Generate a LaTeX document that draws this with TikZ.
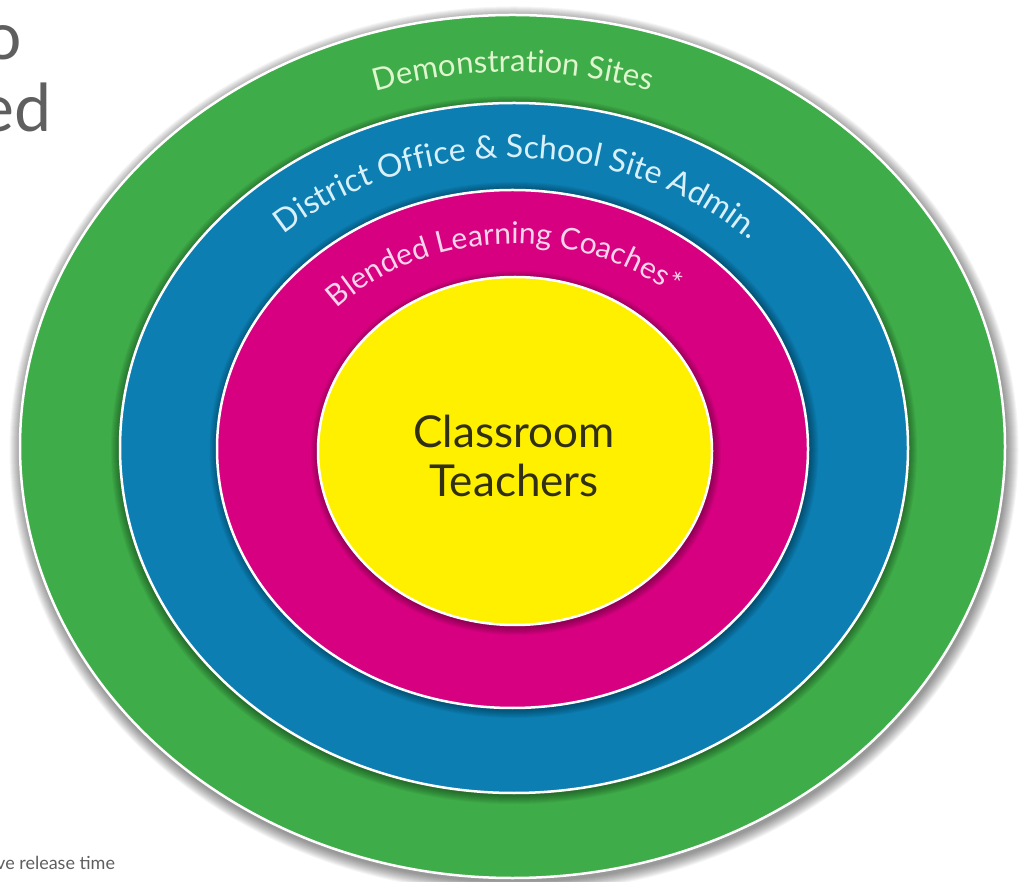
\documentclass[tikz,border=0pt]{standalone}
\usepackage{fontspec}
\setmainfont{Lato}
\usetikzlibrary{shapes.geometric,decorations.text,calc}
\definecolor{ringgreen}{RGB}{62,172,72}
\definecolor{ringblue}{RGB}{12,126,178}
\definecolor{ringmag}{RGB}{214,0,128}
\definecolor{ringyel}{RGB}{255,240,0}
\definecolor{txtgreen}{RGB}{222,245,205}
\definecolor{txtblue}{RGB}{215,240,250}
\definecolor{txtmag}{RGB}{250,212,234}
\definecolor{centertxt}{RGB}{50,48,18}
\definecolor{graytxt}{RGB}{95,95,95}
\begin{document}
\begin{tikzpicture}[x=1pt,y=1pt,
  ring/.style={ellipse, draw=white, line width=2.5pt, inner sep=0pt},
  ringlabel/.style={decorate, decoration={text along path, text align=center}}]
\useasboundingbox (0,0) rectangle (1019,881);
\clip (0,0) rectangle (1019,881);
\fill[white] (0,0) rectangle (1019,881);
\coordinate (c) at (513,433);

% green ring
\foreach \r in {1,...,12}
  \fill[black, opacity=0.04] ($(c)+(1,-2)$) ellipse [x radius={492.5+\r}, y radius={431.5+\r}];
\node[ring, fill=ringgreen, minimum width=985, minimum height=863] (green) at (512.5,434.5) {};
% blue ring
\foreach \r in {1,...,9}
  \fill[black, opacity=0.045] ($(c)+(1,-2)$) ellipse [x radius={394+\r}, y radius={345+\r}];
\node[ring, fill=ringblue, minimum width=788, minimum height=690] (blue) at (514,433) {};
% magenta ring
\foreach \r in {1,...,9}
  \fill[black, opacity=0.045] ($(c)+(1,-2)$) ellipse [x radius={295.5+\r}, y radius={259+\r}];
\node[ring, fill=ringmag, minimum width=591, minimum height=518] (mag) at (512.5,432) {};
% yellow core
\foreach \r in {1,...,8}
  \fill[black, opacity=0.045] ($(515,430)+(1,-2)$) ellipse [x radius={197+\r}, y radius={174+\r}];
\node[ring, fill=ringyel, minimum width=394, minimum height=348] (yel) at (515,430) {};

% curved labels
\path[ringlabel, decoration={text={|\fontsize{31}{31}\selectfont\color{txtgreen}|Demonstration Sites}}]
  ($(c)+({435*cos(165)},{376*sin(165)})$) arc[start angle=165, end angle=15, x radius=435, y radius=376];
\path[ringlabel, decoration={text={|\fontsize{32}{32}\selectfont\color{txtblue}|District Office {\&} School Site Admin.}}]
  ($(c)+({339*cos(175)},{290*sin(175)})$) arc[start angle=175, end angle=3, x radius=339, y radius=290];
\path[ringlabel, decoration={text={|\fontsize{30}{30}\selectfont\color{txtmag}|Blended Learning Coaches*}}]
  ($(c)+({241*cos(178)},{204*sin(178)})$) arc[start angle=178, end angle=8, x radius=241, y radius=204];

% centre label
\node[font=\fontsize{44}{49}\selectfont, text=centertxt, align=center, inner sep=0] (ct) at (514,425) {Classroom\\Teachers};

% cut-off side texts
\node[anchor=base east, inner sep=0, font=\fontsize{66}{66}\selectfont, text=graytxt] (t1) at (22,821) {o};
\node[anchor=base east, inner sep=0, font=\fontsize{66}{66}\selectfont, text=graytxt] (t2) at (52,749) {ed};
\node[anchor=base west, inner sep=0, font=\fontsize{18}{18}\selectfont, text=graytxt] (t3) at (-4,12) {ve release time};
\end{tikzpicture}
\end{document}
